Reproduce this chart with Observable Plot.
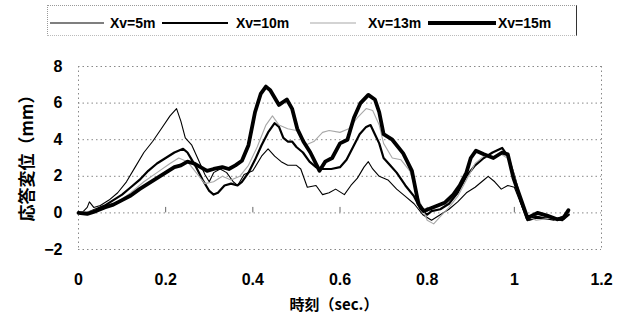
<!DOCTYPE html>
<html><head><meta charset="utf-8">
<script src="https://cdn.jsdelivr.net/npm/d3@7"></script>
<script src="https://cdn.jsdelivr.net/npm/@observablehq/plot@0.6"></script>
<style>
body{margin:0;background:#fff;font-family:"Liberation Sans",Arial,sans-serif;}
#wrap{position:relative;width:628px;height:321px;overflow:hidden;}
#legend{position:relative;height:40px;}
#legend .box{position:absolute;left:47px;top:5px;width:530px;height:31px;border-top:1px dotted #999;border-left:1px dotted #999;border-bottom:1px dotted #bbb;border-right:1.5px solid #333;box-sizing:border-box;}
#legend .item{position:absolute;top:14px;font-size:14px;font-weight:bold;line-height:18px;color:#000;}
#legend svg{position:absolute;top:15px;}
</style></head>
<body><div id="wrap"><div id="legend"></div><div id="chart"></div></div>
<script>
// ---- data ----
const seriesNames = ["Xv=5m", "Xv=10m", "Xv=13m", "Xv=15m"];
const t5 = [0,0.01,0.02,0.025,0.035,0.05,0.07,0.09,0.11,0.13,0.15,0.17,0.19,0.21,0.225,0.235,0.245,0.26,0.275,0.29,0.3,0.31,0.325,0.34,0.355,0.365,0.38,0.4,0.42,0.435,0.45,0.465,0.48,0.5,0.51,0.525,0.545,0.56,0.575,0.59,0.61,0.625,0.64,0.655,0.665,0.675,0.69,0.71,0.73,0.75,0.77,0.79,0.81,0.83,0.85,0.87,0.89,0.91,0.93,0.94,0.955,0.97,0.985,1.0,1.01,1.02,1.035,1.05,1.07,1.09,1.11,1.125];
const v5 = [0,0.05,0.3,0.6,0.3,0.4,0.7,1.1,1.7,2.5,3.3,3.9,4.6,5.3,5.7,5.0,4.1,3.7,2.9,2.1,1.7,2.2,2.4,2.2,1.7,1.5,2.1,2.3,3.1,3.5,3.1,2.8,2.6,2.6,2.4,1.4,1.5,1.0,1.1,1.3,1.0,1.5,1.9,2.5,2.8,2.4,2.0,1.8,1.3,0.9,0.5,-0.1,-0.4,-0.1,0.2,0.6,1.1,1.4,1.8,2.0,1.7,1.3,1.5,1.4,0.8,0.2,-0.4,-0.3,-0.3,-0.4,-0.2,0.1];
const t10 = [0,0.02,0.04,0.06,0.08,0.1,0.12,0.14,0.16,0.18,0.2,0.22,0.24,0.25,0.26,0.27,0.285,0.3,0.31,0.32,0.335,0.35,0.365,0.375,0.39,0.405,0.42,0.435,0.45,0.46,0.47,0.48,0.49,0.5,0.515,0.53,0.545,0.56,0.58,0.6,0.615,0.63,0.645,0.66,0.67,0.68,0.69,0.7,0.715,0.73,0.75,0.77,0.785,0.8,0.81,0.83,0.85,0.87,0.89,0.91,0.93,0.95,0.972,0.985,1.0,1.015,1.03,1.05,1.07,1.09,1.11,1.125];
const v10 = [0,0,0.2,0.4,0.7,1.0,1.4,1.8,2.3,2.7,3.0,3.3,3.5,3.3,2.9,2.5,1.8,1.2,1.0,1.1,1.5,1.6,1.5,1.7,2.2,2.9,3.7,4.4,4.9,4.7,4.1,3.9,3.9,3.6,3.3,2.8,2.5,2.4,2.4,2.5,2.9,3.6,4.3,4.7,4.8,4.3,3.8,3.0,2.6,2.2,1.5,0.9,0.2,-0.1,0.1,0.2,0.5,1.1,2.0,2.6,3.0,3.3,3.55,3.1,2.0,0.6,-0.4,-0.2,-0.3,-0.3,-0.4,-0.1];
const t13 = [0,0.03,0.06,0.09,0.12,0.15,0.18,0.21,0.23,0.25,0.27,0.29,0.31,0.33,0.35,0.37,0.39,0.41,0.43,0.445,0.46,0.48,0.5,0.52,0.54,0.56,0.575,0.6,0.62,0.64,0.66,0.675,0.69,0.7,0.72,0.74,0.76,0.78,0.8,0.815,0.83,0.85,0.87,0.89,0.91,0.93,0.95,0.97,0.99,1.01,1.03,1.05,1.08,1.11,1.125];
const v13 = [0,0.1,0.3,0.6,1.1,1.7,2.2,2.7,3.0,2.8,2.2,1.6,1.7,2.0,1.8,2.0,2.6,3.6,4.8,5.3,4.8,4.6,4.5,3.7,3.9,4.4,4.5,4.4,4.6,5.2,5.7,5.6,4.8,3.8,3.0,2.9,2.3,0.8,-0.4,-0.6,-0.2,0.3,0.9,1.8,2.7,3.1,3.0,3.2,2.9,1.2,-0.2,-0.4,-0.3,-0.3,0];
const t15 = [0,0.02,0.04,0.06,0.08,0.1,0.12,0.14,0.16,0.18,0.2,0.22,0.235,0.25,0.265,0.28,0.295,0.31,0.33,0.345,0.36,0.375,0.39,0.405,0.418,0.43,0.44,0.46,0.478,0.49,0.502,0.516,0.532,0.553,0.566,0.582,0.6,0.617,0.632,0.647,0.665,0.68,0.69,0.7,0.72,0.745,0.765,0.78,0.792,0.81,0.84,0.86,0.875,0.89,0.9,0.912,0.93,0.952,0.972,0.985,0.998,1.018,1.03,1.053,1.075,1.098,1.113,1.124];
const v15 = [0,-0.05,0.1,0.3,0.45,0.7,0.95,1.3,1.6,1.9,2.2,2.5,2.6,2.8,2.7,2.5,2.3,2.4,2.5,2.4,2.6,2.85,3.7,5.5,6.5,6.9,6.7,5.9,6.2,5.7,4.6,3.9,3.3,2.3,2.8,3.0,3.8,4.0,5.2,6.0,6.45,6.2,5.5,4.3,4.0,3.25,2.3,0.5,0.1,0.27,0.55,1.0,1.5,2.2,3.0,3.4,3.2,3.0,3.3,3.2,1.9,0.55,-0.27,0.0,-0.15,-0.35,-0.27,0.15];
const xTicks = [0, 0.2, 0.4, 0.6, 0.8, 1, 1.2];
const yTicks = [-2, 0, 2, 4, 6, 8];
const xTitle = "時刻（sec.）";
const yTitle = "応答変位（mm）";

// ---- styles ----
const styles = [
  {stroke: "#000", width: 1.1},
  {stroke: "#000", width: 2.2},
  {stroke: "#a8a8a8", width: 1.1},
  {stroke: "#000", width: 3.8}
];
const pairs = [[t5, v5], [t10, v10], [t13, v13], [t15, v15]];
const series = pairs.map(([t, v], i) => d3.zip(t, v).map(([x, y]) => ({t: x, v: y, s: seriesNames[i]})));

// ---- legend ----
const legend = document.getElementById("legend");
legend.innerHTML = '<div class="box"></div>';
const legPos = [[50, 54, 110], [162, 66, 236], [310, 46, 368], [428, 68, 498]];
legPos.forEach(([lx, lw, tx], i) => {
  const st = styles[i];
  const ns = "http://www.w3.org/2000/svg";
  const s = document.createElementNS(ns, "svg");
  s.setAttribute("width", lw); s.setAttribute("height", 16);
  s.style.left = lx + "px";
  const ln = document.createElementNS(ns, "line");
  ln.setAttribute("x1", 0); ln.setAttribute("x2", lw); ln.setAttribute("y1", 8); ln.setAttribute("y2", 8);
  ln.setAttribute("stroke", st.stroke); ln.setAttribute("stroke-width", st.width);
  s.appendChild(ln); legend.appendChild(s);
  const d = document.createElement("div");
  d.className = "item"; d.style.left = tx + "px"; d.textContent = seriesNames[i];
  legend.appendChild(d);
});

// ---- chart ----
const gridStyle = {stroke: "#888", strokeDasharray: "1.5,3", strokeWidth: 1};
const chart = Plot.plot({
  width: 628, height: 281,
  marginTop: 26, marginBottom: 72, marginLeft: 78, marginRight: 27,
  style: {fontFamily: "'Liberation Sans', Arial, sans-serif", fontSize: "16px", fontWeight: "bold", color: "#000", background: "#fff"},
  x: {domain: [0, 1.2], label: null},
  y: {domain: [-2, 8], label: null},
  marks: [
    Plot.ruleY(yTicks, {...gridStyle}),
    Plot.ruleX([0, 1.2], {...gridStyle}),
    Plot.ruleX(xTicks.slice(1, -1), {y1: 0, y2: 0.3, stroke: "#666", strokeWidth: 1}),
    Plot.axisX(xTicks, {tickSize: 0, tickPadding: 24, label: null, tickFormat: d => String(+d.toFixed(1)), fontSize: 16, fontWeight: "bold"}),
    Plot.axisY(yTicks, {tickSize: 0, tickPadding: 16, label: null, tickFormat: d => d < 0 ? "\u2212" + Math.abs(d) : String(d), fontSize: 16, fontWeight: "bold"}),
    ...series.map((data, i) => Plot.line(data, {x: "t", y: "v", stroke: styles[i].stroke, strokeWidth: styles[i].width, strokeLinejoin: "round"})),
    Plot.text([xTitle], {frameAnchor: "bottom", dy: 60, dx: -6, lineHeight: 1, text: d => d, fontSize: 15, fontWeight: "bold", fontFamily: "'Noto Sans CJK JP', sans-serif"}),
    Plot.text([yTitle], {frameAnchor: "left", dx: -51, dy: -4, rotate: -90, textAnchor: "middle", text: d => d, fontSize: 17, fontWeight: "bold", fontFamily: "'Noto Sans CJK JP', sans-serif"})
  ]
});
document.getElementById("chart").appendChild(chart);
</script></body></html>
